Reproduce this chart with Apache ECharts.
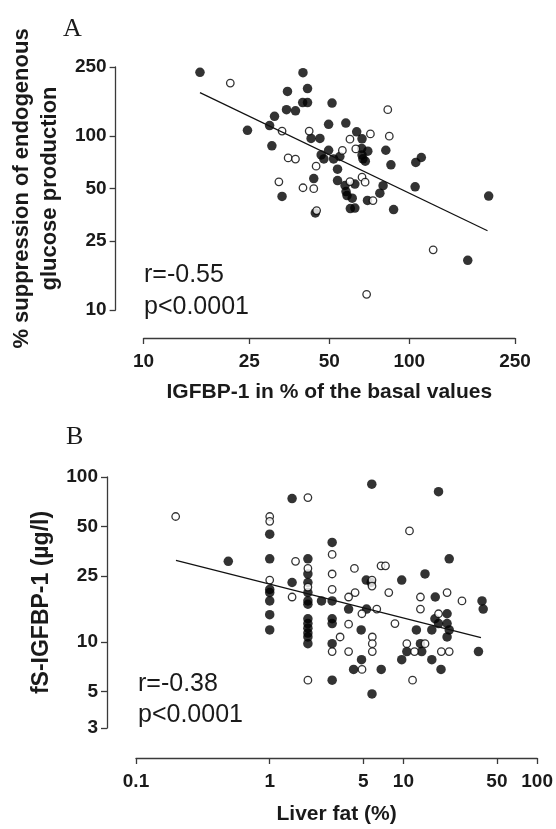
<!DOCTYPE html>
<html><head><meta charset="utf-8">
<script src="https://cdn.jsdelivr.net/npm/echarts@6/dist/echarts.min.js"></script>
<style>html,body{margin:0;padding:0;background:#fff}#c{width:556px;height:829px}</style>
</head><body><div id="c"></div>
<script>
// ---------- Panel A data ----------
const aFilledX = [16.3, 39.8, 34.8, 41.4, 39.7, 41.4, 34.5, 37.3, 31.1, 29.8, 24.6, 30.4, 42.7, 46.1, 49.7, 46.6, 47.7, 51.2, 49.7, 43.7, 33.2, 57.7, 63.4, 66.4, 51.9, 54.8, 66.2, 69.8, 66.4, 66.9, 68.3, 81.6, 85.3, 105.8, 111, 53.7, 53.7, 57.3, 57.8, 58.3, 61.0, 62.4, 79.7, 77.5, 105.2, 69.6, 60.0, 62.4, 87.3, 199, 44.3, 166];
const aFilledY = [233, 232, 181, 188, 156, 156, 142, 140, 130, 115, 108, 88, 97, 97, 83, 78, 74, 155, 117, 57, 45, 119, 106, 96.5, 74, 76.4, 85, 82, 77.8, 74.1, 71.8, 83, 68.4, 70.6, 75.4, 64.6, 55.5, 52.1, 48, 45.5, 44, 53, 51.9, 47, 51.1, 42.7, 38.3, 38.6, 37.8, 45.2, 36.2, 19.3];
const aOpenX = [21.2, 33.2, 42.0, 35.0, 37.3, 44.6, 32.3, 39.8, 43.7, 44.8, 83.0, 59.8, 71.4, 84.1, 56.0, 62.9, 66.4, 59.8, 68.2, 73.0, 123, 69.1];
const aOpenY = [202, 107, 107, 75, 73.8, 67.2, 54.6, 50.5, 49.9, 37.3, 142, 96.1, 103, 100, 82.8, 84.5, 58.1, 54.8, 54.4, 42.6, 22.2, 12.3];
const aLineX = [16.3, 197];
const aLineY = [178, 28.6];
const aXTicks = [10, 25, 50, 100, 250];
const aYTicks = [10, 25, 50, 100, 250];
const aXName = 'IGFBP-1 in % of the basal values';
const aYName = '% suppression of endogenous\nglucose production';
const aStats = ['r=-0.55', 'p<0.0001'];

// ---------- Panel B data ----------
const bFilledX = [0.49, 1, 1, 1, 1, 1, 1, 1, 1.47, 1.47, 1.93, 1.93, 1.93, 1.93, 1.93, 1.93, 1.93, 1.93, 1.93, 1.93, 1.93, 1.93, 2.93, 2.44, 2.93, 2.93, 2.93, 2.93, 2.93, 3.89, 5.8, 5.27, 5.74, 5.3, 4.83, 4.86, 4.24, 5.82, 6.82, 9.71, 14.5, 18.3, 22.0, 17.3, 21.2, 17.2, 18.3, 21.2, 22.0, 21.2, 16.3, 12.5, 13.4, 10.6, 13.7, 36.4, 9.71, 16.3, 19.1, 38.7, 39.5];
const bFilledY = [30.8, 31.9, 45.0, 20.8, 19.9, 17.7, 14.6, 11.8, 74.0, 22.9, 31.9, 25.8, 22.9, 19.9, 17.7, 16.9, 13.8, 12.9, 12.1, 11.3, 10.7, 9.74, 40.1, 17.7, 17.7, 13.8, 12.9, 9.74, 5.85, 15.8, 90.5, 23.7, 22.9, 15.8, 11.8, 7.79, 6.80, 4.83, 6.80, 23.7, 25.8, 81.4, 31.9, 18.7, 14.8, 13.8, 12.9, 12.9, 11.8, 10.7, 11.8, 11.8, 9.74, 8.73, 8.73, 8.73, 7.79, 7.79, 6.80, 17.7, 15.8];
const bOpenX = [0.198, 1, 1, 1, 1.56, 1.47, 1.93, 1.93, 1.93, 2.93, 2.93, 2.93, 2.93, 1.93, 3.89, 3.89, 3.89, 3.36, 4.35, 4.30, 5.82, 5.82, 4.89, 6.32, 5.85, 5.85, 5.85, 4.9, 6.8, 7.34, 11.1, 7.77, 8.64, 13.4, 13.4, 21.2, 27.4, 18.3, 10.6, 14.5, 12.1, 19.2, 22.0, 11.7];
const bOpenY = [57.6, 57.6, 53.8, 23.7, 30.8, 18.7, 75.0, 27.9, 21.5, 33.9, 25.8, 20.8, 8.73, 5.85, 18.7, 12.8, 8.73, 10.7, 19.9, 27.9, 23.7, 21.8, 14.8, 15.8, 10.7, 9.74, 8.73, 6.80, 28.9, 28.9, 47.1, 19.9, 12.9, 18.7, 15.8, 19.9, 17.7, 14.8, 9.74, 9.74, 8.73, 8.73, 8.73, 5.85];
const bLineX = [0.199, 38];
const bLineY = [31.2, 10.6];
const bXTicks = [0.1, 1, 5, 10, 50, 100];
const bYTicks = [3, 5, 10, 25, 50, 100];
const bXName = 'Liver fat (%)';
const bYName = 'fS-IGFBP-1 (\u00b5g/l)';
const bStats = ['r=-0.38', 'p<0.0001'];

// ---------- build ----------
const FONT = '"Liberation Sans", Arial, Helvetica, sans-serif';
const SERIF = '"Liberation Serif", "Times New Roman", serif';
const INK = '#1a1a1a';
const AXC = '#3a3a3a';
const zip = (xs, ys) => xs.map((x, i) => [x, ys[i]]);
const fmt = v => String(+Number(v).toPrecision(6));

function logAxis(gridIndex, min, max, ticks, offset, name, nameGap, labelMargin, nameSize, rotate) {
  const ax = {
    gridIndex, type: 'log', logBase: 10, min, max, offset,
    axisLine: { show: true, lineStyle: { color: AXC, width: 1.3 } },
    axisTick: { show: true, length: 6, customValues: ticks, lineStyle: { color: AXC, width: 1.3 } },
    axisLabel: { customValues: ticks, margin: labelMargin, fontSize: 19, fontWeight: 'bold', color: INK, fontFamily: FONT, formatter: fmt },
    splitLine: { show: false },
    minorTick: { show: false },
    name, nameLocation: 'middle', nameGap,
    nameTextStyle: { fontSize: nameSize, fontWeight: 'bold', color: INK, fontFamily: FONT, lineHeight: 28 }
  };
  if (rotate) ax.nameRotate = 90;
  return ax;
}

const filledStyle = { color: '#000' };
const openStyle = { color: '#fff', borderColor: '#000', borderWidth: 1.3 };

const option = {
  animation: false,
  backgroundColor: '#fff',
  grid: [
    { left: 135, top: 67, width: 380, height: 243 },
    { left: 136, top: 477, width: 402, height: 256 }
  ],
  xAxis: [
    logAxis(0, 10, 250, aXTicks, 28, aXName, 40, 14, 21, false),
    logAxis(1, 0.1, 100, bXTicks, 30, bXName, 42, 14, 21, false)
  ],
  yAxis: [
    logAxis(0, 10, 250, aYTicks, 28, aYName, 48, 9, 22, true),
    logAxis(1, 3, 100, bYTicks, 29, bYName, 50, 9, 23, true)
  ],
  series: [
    { type: 'scatter', xAxisIndex: 0, yAxisIndex: 0, symbol: 'circle', symbolSize: 7.5, itemStyle: openStyle, data: zip(aOpenX, aOpenY), z: 3 },
    { type: 'scatter', xAxisIndex: 0, yAxisIndex: 0, symbol: 'circle', symbolSize: 9.5, itemStyle: filledStyle, data: zip(aFilledX, aFilledY), z: 2 },
    { type: 'line', xAxisIndex: 0, yAxisIndex: 0, data: zip(aLineX, aLineY), showSymbol: false, symbol: 'none', lineStyle: { color: '#111', width: 1.2 }, z: 4 },
    { type: 'scatter', xAxisIndex: 1, yAxisIndex: 1, symbol: 'circle', symbolSize: 7.5, itemStyle: openStyle, data: zip(bOpenX, bOpenY), z: 3 },
    { type: 'scatter', xAxisIndex: 1, yAxisIndex: 1, symbol: 'circle', symbolSize: 9.5, itemStyle: filledStyle, data: zip(bFilledX, bFilledY), z: 2 },
    { type: 'line', xAxisIndex: 1, yAxisIndex: 1, data: zip(bLineX, bLineY), showSymbol: false, symbol: 'none', lineStyle: { color: '#111', width: 1.2 }, z: 4 }
  ],
  graphic: [
    { type: 'text', left: 63, top: 16, style: { text: 'A', font: '26px ' + SERIF, fill: INK } },
    { type: 'text', left: 66, top: 424, style: { text: 'B', font: '26px ' + SERIF, fill: INK } },
    { type: 'text', left: 144, top: 263, style: { text: aStats[0], font: '25px ' + FONT, fill: INK } },
    { type: 'text', left: 144, top: 295, style: { text: aStats[1], font: '25px ' + FONT, fill: INK } },
    { type: 'text', left: 138, top: 672, style: { text: bStats[0], font: '25px ' + FONT, fill: INK } },
    { type: 'text', left: 138, top: 703, style: { text: bStats[1], font: '25px ' + FONT, fill: INK } }
  ]
};
const chart = echarts.init(document.getElementById('c'), null, { renderer: 'canvas' });
chart.setOption(option);
</script>
</body></html>
